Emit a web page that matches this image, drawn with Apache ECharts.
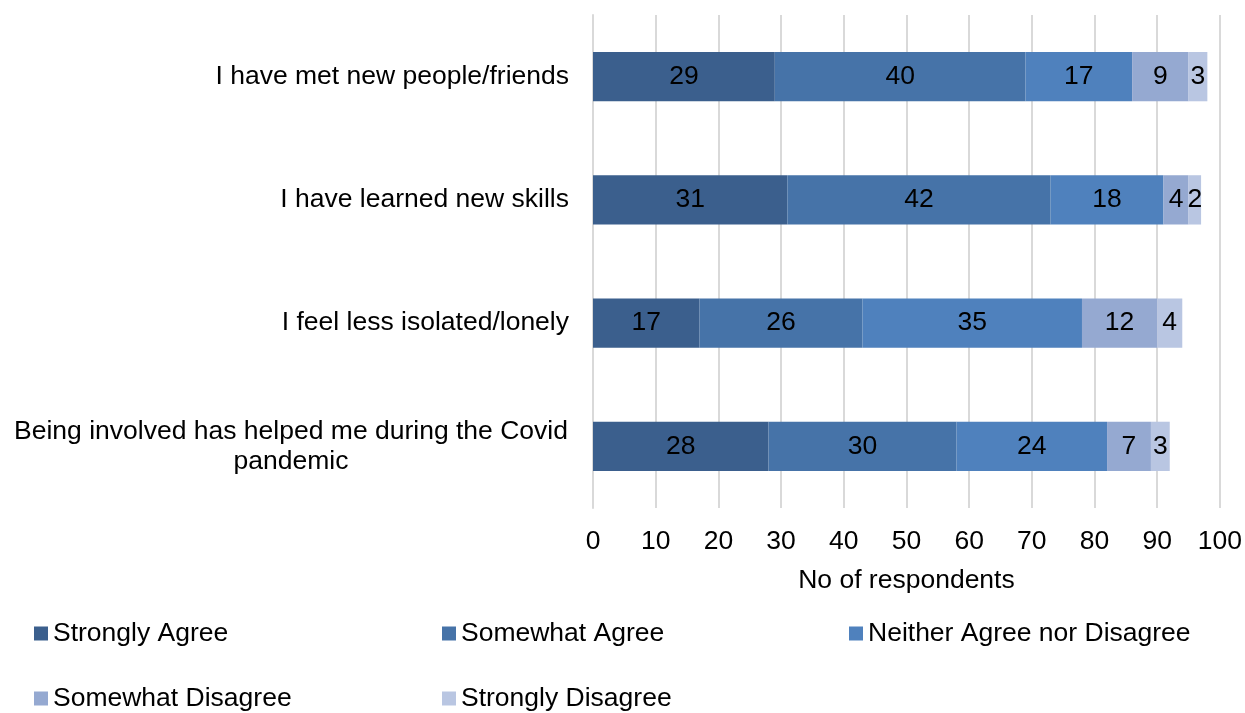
<!DOCTYPE html>
<html>
<head>
<meta charset="utf-8">
<script src="https://cdn.jsdelivr.net/npm/echarts@6/dist/echarts.min.js"></script>
<style>
  html, body { margin: 0; padding: 0; background: #fff; }
  #chart { width: 1245px; height: 713px; }
</style>
</head>
<body>
<div id="chart"></div>
<script>
// Survey statements, top to bottom
const categories = [
  'I have met new people/friends',
  'I have learned new skills',
  'I feel less isolated/lonely',
  'Being involved has helped me during the Covid\npandemic'
];
const seriesNames = [
  'Strongly Agree',
  'Somewhat Agree',
  'Neither Agree nor Disagree',
  'Somewhat Disagree',
  'Strongly Disagree'
];
// Number of respondents per answer, in the order of categories
const stronglyAgree    = [29, 31, 17, 28];
const somewhatAgree    = [40, 42, 26, 30];
const neither          = [17, 18, 35, 24];
const somewhatDisagree = [9, 4, 12, 7];
const stronglyDisagree = [3, 2, 4, 3];
const xTicks = [0, 10, 20, 30, 40, 50, 60, 70, 80, 90, 100];

const values = [stronglyAgree, somewhatAgree, neither, somewhatDisagree, stronglyDisagree];
const colors = ['#3B5F8D', '#4673A8', '#4F81BD', '#95A9D1', '#B9C6E2'];
const FONT = '"Liberation Sans", Arial, sans-serif';
const FS = 26.5;

// legend entries laid out as a two-row grid
const legendPos = [
  { left: 34, top: 620 },
  { left: 442, top: 620 },
  { left: 849, top: 620 },
  { left: 34, top: 685 },
  { left: 442, top: 685 }
];

const chart = echarts.init(document.getElementById('chart'), null, { renderer: 'canvas' });

chart.setOption({
  animation: false,
  backgroundColor: '#ffffff',
  textStyle: { fontFamily: FONT },
  grid: { left: 593, right: 24, top: 15, bottom: 205, containLabel: false },
  legend: seriesNames.map((n, i) => ({
    data: [n],
    left: legendPos[i].left,
    top: legendPos[i].top,
    padding: 0,
    itemWidth: 14,
    itemHeight: 14,
    icon: 'rect',
    selectedMode: false,
    textStyle: { fontFamily: FONT, fontSize: FS, color: '#000', lineHeight: 27 }
  })),
  xAxis: {
    type: 'value',
    min: xTicks[0],
    max: xTicks[xTicks.length - 1],
    interval: 10,
    axisLine: { show: false },
    axisTick: { show: false },
    splitLine: { show: true, lineStyle: { color: '#D9D9D9', width: 2 } },
    axisLabel: { fontFamily: FONT, fontSize: FS, color: '#000', margin: 20 },
    name: 'No of respondents',
    nameLocation: 'middle',
    nameGap: 59,
    nameTextStyle: { fontFamily: FONT, fontSize: FS, color: '#000' }
  },
  yAxis: {
    type: 'category',
    data: categories,
    inverse: true,
    axisLine: { show: true, lineStyle: { color: '#D9D9D9', width: 2 } },
    axisTick: { show: false },
    axisLabel: {
      margin: 24,
      fontFamily: FONT,
      fontSize: FS,
      color: '#000',
      lineHeight: 30,
      formatter: function (v) {
        if (v.indexOf('\n') >= 0) {
          return v.split('\n').map(s => '{c|' + s + '}').join('\n');
        }
        return v;
      },
      rich: {
        c: { fontFamily: FONT, fontSize: FS, color: '#000', width: 556, align: 'center', lineHeight: 30 }
      }
    }
  },
  series: seriesNames.map((n, i) => ({
    name: n,
    type: 'bar',
    stack: 'total',
    barCategoryGap: '60%',
    data: values[i],
    itemStyle: { color: colors[i] },
    label: {
      show: true,
      position: 'inside',
      fontFamily: FONT,
      fontSize: FS,
      color: '#000'
    }
  }))
});
</script>
</body>
</html>
